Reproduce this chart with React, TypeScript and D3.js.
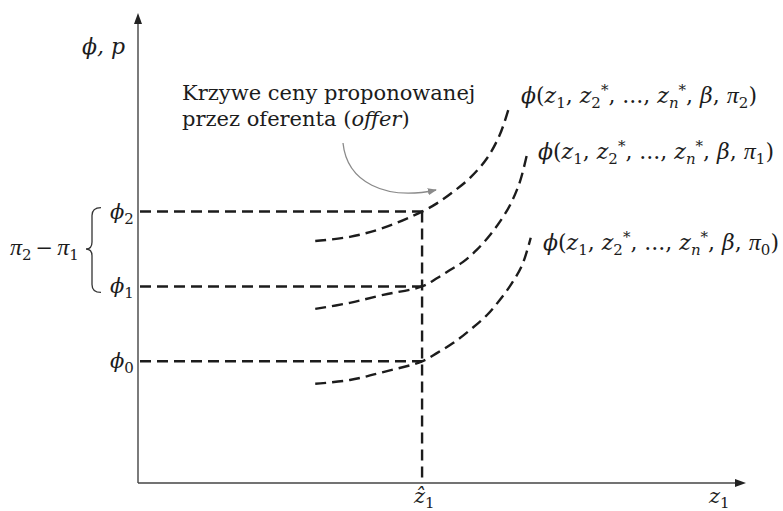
import React from "react";
import * as d3 from "d3";

// Bid-rent ("offer") curves for three utility levels π0 < π1 < π2
const levelNames = ["0", "1", "2"];
const phiLevels = [26, 42, 58];
const zHat = 46.8;

const curveX0 = [29.2, 34.9, 40.4, 46.8, 49.3, 51.9, 54.7, 57.5, 59.6, 61.6, 63.3, 64.7];
const curveY0 = [21.2, 22.0, 23.7, 26.0, 27.8, 29.9, 32.7, 35.9, 39.1, 42.7, 46.6, 52.4];
const curveX1 = [29.2, 34.9, 40.4, 46.8, 49.3, 51.4, 53.5, 55.8, 58.0, 59.6, 61.3, 62.9, 64.1];
const curveY1 = [37.2, 38.5, 40.2, 42.0, 43.8, 45.5, 47.2, 49.8, 53.0, 55.8, 59.4, 64.3, 70.3];
const curveX2 = [29.2, 34.9, 40.4, 46.8, 49.3, 51.9, 54.7, 57.5, 59.6, 61.0];
const curveY2 = [51.7, 52.6, 54.5, 58.0, 59.8, 62.2, 65.2, 69.4, 74.4, 79.7];

const curves = [
  { xs: curveX0, ys: curveY0 },
  { xs: curveX1, ys: curveY1 },
  { xs: curveX2, ys: curveY2 },
];

const annotationLines = ["Krzywe ceny proponowanej", "przez oferenta ("];
const annotationItalic = "offer";

const W = 783;
const H = 511;

const x = d3.scaleLinear().domain([0, 100]).range([138, 745]);
const y = d3.scaleLinear().domain([0, 100]).range([483, 15]);

const serif = "'DejaVu Serif', 'Liberation Serif', serif";
const greek = "'Liberation Serif', 'DejaVu Serif', serif";
const ink = "#1c1c1c";
const dash = "11,6";

const line = d3
  .line<[number, number]>()
  .x((d) => x(d[0]))
  .y((d) => y(d[1]))
  .curve(d3.curveCatmullRom.alpha(0.5));

// label placement for each curve, in px
const labelPos = [
  { x: 543, y: 250 },
  { x: 538, y: 159 },
  { x: 521, y: 103 },
];

function Pi({ size }: { size?: number }) {
  return (
    <tspan fontFamily={greek} fontStyle="italic" fontSize={size}>
      π
    </tspan>
  );
}

function CurveLabel({ px, py, idx }: { px: number; py: number; idx: string }) {
  const fs = 22;
  const sub = 15;
  return (
    <text x={px} y={py} fontFamily={serif} fontSize={fs} fill={ink}>
      <tspan fontStyle="italic">ϕ</tspan>
      <tspan>(</tspan>
      <tspan fontStyle="italic">z</tspan>
      <tspan dy={5} fontSize={sub}>1</tspan>
      <tspan dy={-5}>, </tspan>
      <tspan fontStyle="italic">z</tspan>
      <tspan dy={5} fontSize={sub}>2</tspan>
      <tspan dy={-13} fontSize={sub}>*</tspan>
      <tspan dy={8}>, ..., </tspan>
      <tspan fontStyle="italic">z</tspan>
      <tspan dy={5} fontSize={sub} fontStyle="italic">n</tspan>
      <tspan dy={-13} fontSize={sub}>*</tspan>
      <tspan dy={8}>, </tspan>
      <tspan fontStyle="italic">β</tspan>
      <tspan>, </tspan>
      <tspan fontFamily={greek} fontStyle="italic" fontSize={24}>π</tspan>
      <tspan dy={5} fontSize={sub}>{idx}</tspan>
      <tspan dy={-5}>)</tspan>
    </text>
  );
}

export default function App() {
  const xAxisY = y(0);
  const yAxisX = x(0);
  const zx = x(zHat);
  const b2 = y(phiLevels[2]);
  const b1 = y(phiLevels[1]);
  const bm = (b1 + b2) / 2;
  return (
    <svg width={W} height={H} style={{ position: "absolute", left: 0, top: 0, background: "#fff" }}>
      <defs>
        <marker id="grayHead" viewBox="0 0 10 10" refX="9" refY="5" markerWidth="7" markerHeight="7" orient="auto">
          <path d="M0,1 L10,5 L0,9 Z" fill="#8a8a8a" />
        </marker>
      </defs>

      {/* axes */}
      <line x1={yAxisX} y1={xAxisY} x2={yAxisX} y2={22} stroke="#444" strokeWidth={1.4} />
      <path d={`M${yAxisX},13 L${yAxisX - 4},24 L${yAxisX + 4},24 Z`} fill="#222" />
      <line x1={yAxisX} y1={xAxisY} x2={737} y2={xAxisY} stroke="#444" strokeWidth={1.4} />
      <path d={`M746,${xAxisY} L735,${xAxisY - 4} L735,${xAxisY + 4} Z`} fill="#222" />

      {/* guide lines at ẑ1 */}
      {phiLevels.map((p, i) => (
        <line key={"h" + i} x1={yAxisX + 2} x2={zx} y1={y(p)} y2={y(p)} stroke={ink} strokeWidth={2.4} strokeDasharray={dash} />
      ))}
      <line x1={zx} x2={zx} y1={y(phiLevels[2])} y2={xAxisY} stroke={ink} strokeWidth={2.4} strokeDasharray={dash} />

      {/* offer curves */}
      {curves.map((c, i) => (
        <path
          key={"c" + i}
          d={line(c.xs.map((v, j) => [v, c.ys[j]] as [number, number])) || ""}
          fill="none"
          stroke={ink}
          strokeWidth={2.4}
          strokeDasharray={dash}
        />
      ))}

      {/* curve labels */}
      {levelNames.map((n, i) => (
        <CurveLabel key={"l" + i} px={labelPos[i].x} py={labelPos[i].y} idx={n} />
      ))}

      {/* annotation */}
      <text x={182} y={100} fontFamily={serif} fontSize={21} fill={ink}>
        {annotationLines[0]}
      </text>
      <text x={182} y={126} fontFamily={serif} fontSize={21} fill={ink}>
        {annotationLines[1]}
        <tspan fontStyle="italic">{annotationItalic}</tspan>
        <tspan>)</tspan>
      </text>
      <path d="M343,143 C347,182 385,201 436,190" fill="none" stroke="#8a8a8a" strokeWidth={1.3} markerEnd="url(#grayHead)" />

      {/* y-axis title */}
      <text x={82} y={54} fontFamily={serif} fontSize={22} fontStyle="italic" fill={ink}>
        ϕ, p
      </text>

      {/* φ level labels */}
      {phiLevels.map((p, i) => (
        <text key={"t" + i} x={110} y={y(p) + 7} fontFamily={serif} fontSize={21} fill={ink}>
          <tspan fontStyle="italic">ϕ</tspan>
          <tspan dy={5} fontSize={15}>{levelNames[i]}</tspan>
        </text>
      ))}

      {/* brace for π2 − π1 */}
      <path
        d={`M101,${b2 - 4} Q92,${b2 - 4} 92,${b2 + 4} L92,${bm - 7} Q92,${bm} 86,${bm} Q92,${bm} 92,${bm + 7} L92,${b1 - 2} Q92,${b1 + 6} 101,${b1 + 6}`}
        fill="none"
        stroke="#333"
        strokeWidth={1.3}
      />
      <text x={10} y={255} fontFamily={serif} fontSize={21} fill={ink}>
        <Pi size={24} />
        <tspan dy={5} fontSize={15}>2</tspan>
        <tspan dy={-5} dx={4}>−</tspan>
        <tspan dx={4}>
          <Pi size={24} />
        </tspan>
        <tspan dy={5} fontSize={15}>1</tspan>
      </text>

      {/* x-axis labels */}
      <text x={414} y={503} fontFamily={serif} fontSize={21} fill={ink}>
        <tspan fontStyle="italic">ẑ</tspan>
        <tspan dy={5} fontSize={15}>1</tspan>
      </text>
      <text x={709} y={503} fontFamily={serif} fontSize={21} fill={ink}>
        <tspan fontStyle="italic">z</tspan>
        <tspan dy={5} fontSize={15}>1</tspan>
      </text>
    </svg>
  );
}
